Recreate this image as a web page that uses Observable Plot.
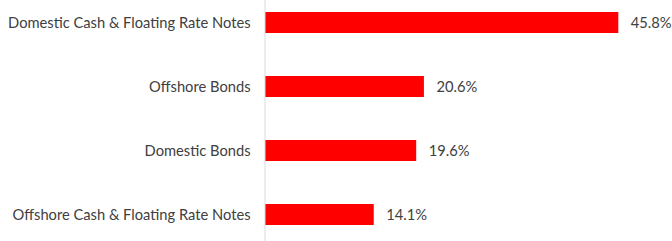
<!DOCTYPE html>
<html>
<head>
<meta charset="utf-8">
<script src="https://cdn.jsdelivr.net/npm/d3@7"></script>
<script src="https://cdn.jsdelivr.net/npm/@observablehq/plot@0.6"></script>
<style>
  html, body { margin: 0; padding: 0; background: #fff; }
</style>
</head>
<body>
<div id="chart"></div>
<script>
const categories = [
  "Domestic Cash & Floating Rate Notes",
  "Offshore Bonds",
  "Domestic Bonds",
  "Offshore Cash & Floating Rate Notes"
];
const values = [45.8, 20.6, 19.6, 14.1];

const data = categories.map((c, i) => ({category: c, value: values[i]}));

const chart = Plot.plot({
  width: 672,
  height: 241,
  marginLeft: 265,
  marginRight: 21.3,
  marginTop: 0,
  marginBottom: 0,
  style: {fontFamily: "Lato, sans-serif", fontSize: "14.7px", color: "#404040", background: "#fff"},
  x: {domain: [0, 50], axis: null},
  y: {domain: categories, range: [-10.9, 248.3], paddingInner: 0.676, paddingOuter: 0.338, label: null},
  marks: [
    Plot.barX(data, {x: "value", y: "category", fill: "#FF0000"}),
    Plot.ruleX([0], {stroke: "#d9d9d9", dx: -0.5}),
    Plot.axisY({tickSize: 0, tickPadding: 15, label: null, fontSize: 14.7}),
    Plot.text(data, {x: "value", y: "category", text: d => d.value.toFixed(1) + "%", textAnchor: "start", dx: 12, fill: "#404040", fontSize: 14.7})
  ]
});
document.getElementById("chart").appendChild(chart);
</script>
</body>
</html>
